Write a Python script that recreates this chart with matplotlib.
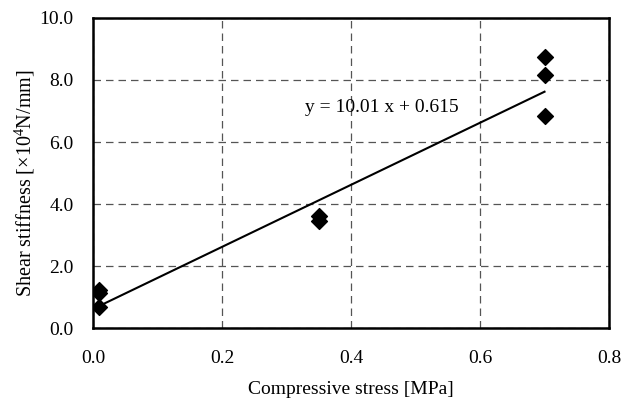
import matplotlib
matplotlib.use("Agg")
import matplotlib.pyplot as plt
import numpy as np

plt.rcParams['font.family'] = ['Liberation Serif', 'DejaVu Serif']
plt.rcParams['mathtext.fontset'] = 'custom'
plt.rcParams['mathtext.rm'] = 'Liberation Serif'

stress = [0.01, 0.01, 0.01, 0.35, 0.35, 0.70, 0.70, 0.70]
stiffness = [1.22, 1.12, 0.68, 3.62, 3.45, 8.75, 8.15, 6.85]
slope = 10.01
intercept = 0.615
xticks = [0.0, 0.2, 0.4, 0.6, 0.8]
yticks = [0.0, 2.0, 4.0, 6.0, 8.0, 10.0]

fig = plt.figure(figsize=(6.3, 4.05), dpi=100)
ax = fig.add_axes([0.1476, 0.190, 0.8191, 0.7656])

ax.scatter(stress, stiffness, marker='D', s=65, color='black', zorder=3)
xl = np.array([min(stress), max(stress)])
ax.plot(xl, slope * xl + intercept, color='black', lw=1.5, zorder=3)
ax.text(0.448, 7.1, "y = 10.01 x + 0.615", fontsize=14, ha='center', va='center')

ax.set_xlim(0, 0.8)
ax.set_ylim(0, 10)
ax.set_xticks(xticks)
ax.set_yticks(yticks)
ax.set_xticklabels([f"{v:.1f}" for v in xticks], fontsize=14)
ax.set_yticklabels([f"{v:.1f}" for v in yticks], fontsize=14)
ax.tick_params(axis='x', length=0, pad=16)
ax.tick_params(axis='y', length=0, pad=14)
ax.grid(True, color='#555555', linestyle=(0, (6, 4)), lw=0.9)
for s in ax.spines.values():
    s.set_linewidth(1.8)
    s.set_color('black')

ax.set_xlabel("Compressive stress [MPa]", fontsize=14, labelpad=10)
ax.set_ylabel("Shear stiffness [×10$^{4}$N/mm]", fontsize=14.5)
ax.yaxis.set_label_coords(-0.108, 0.468)

fig.savefig("out.png", dpi=100)
